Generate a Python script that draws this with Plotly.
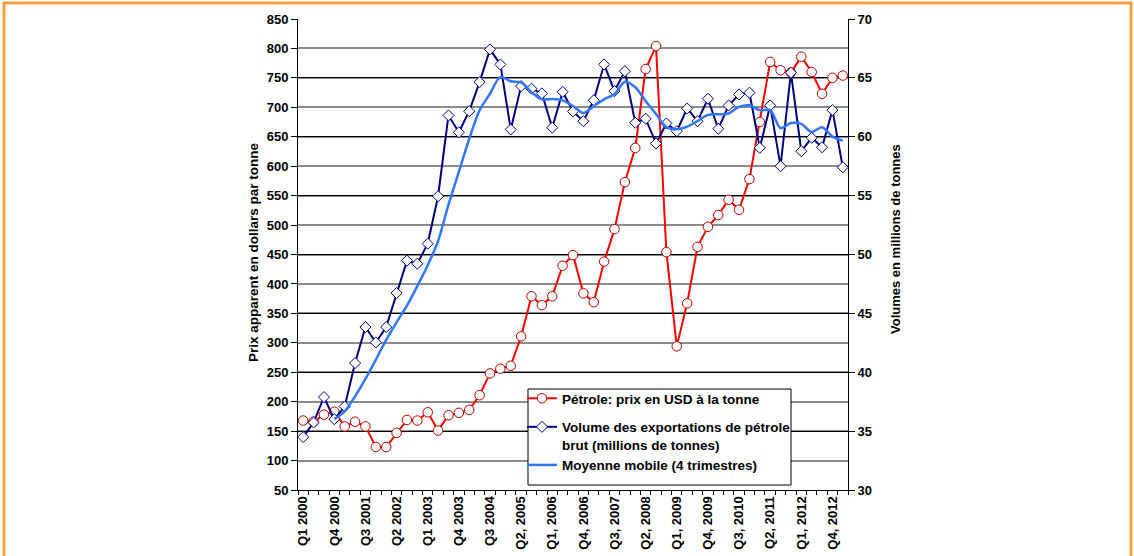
import plotly.graph_objects as go

# ---------------- data ----------------
quarters = [f"Q{q} {y}" for y in range(2000, 2014) for q in range(1, 5)][:53]

tick_labels = ["Q1 2000", "Q4 2000", "Q3 2001", "Q2 2002", "Q1 2003", "Q4 2003",
               "Q3 2004", "Q2, 2005", "Q1, 2006", "Q4, 2006", "Q3, 2007", "Q2, 2008",
               "Q1, 2009", "Q4, 2009", "Q3, 2010", "Q2, 2011", "Q1, 2012", "Q4, 2012"]

price = [168, 166, 178, 183, 158, 166, 158, 123, 123, 147, 169, 168, 182, 151,
         177, 181, 186, 211, 248, 256, 261, 311, 379, 364, 379, 431, 449, 384,
         369, 438, 493, 573, 631, 765, 804, 454, 294, 367, 463, 497, 517, 543,
         526, 578, 675, 777, 763, 759, 786, 760, 723, 750, 754]

volume = [34.49, 35.73, 37.89, 36.02, 37.09, 40.78, 43.84, 42.53, 43.84, 46.73,
          49.48, 49.22, 50.92, 54.95, 61.81, 60.38, 62.17, 64.64, 67.42, 66.14,
          60.62, 64.30, 64.08, 63.68, 60.77, 63.82, 62.15, 61.32, 63.10, 66.14,
          63.88, 65.57, 61.19, 61.53, 59.43, 61.13, 60.47, 62.40, 61.32, 63.23,
          60.68, 62.66, 63.59, 63.74, 59.06, 62.66, 57.50, 65.44, 58.77, 59.91,
          59.11, 62.26, 57.41]

moving_avg = [None, None, None, 36.03, 36.68, 37.95, 39.43, 41.06, 42.75, 44.24,
              45.65, 47.32, 49.09, 51.14, 54.23, 57.02, 59.83, 62.25, 63.65, 65.09,
              64.71, 64.62, 63.79, 63.17, 63.21, 63.09, 62.61, 62.02, 62.60, 63.18,
              63.61, 64.67, 64.20, 63.04, 61.93, 60.82, 60.64, 60.86, 61.33, 61.86,
              61.91, 61.97, 62.54, 62.67, 62.26, 62.26, 60.74, 61.17, 61.09, 60.41,
              60.81, 60.01, 59.67]

names = ["Pétrole: prix en USD à la tonne",
         "Volume des exportations de pétrole<br>brut (millions de tonnes)",
         "Moyenne mobile (4 trimestres)"]

# ---------------- layout geometry (pixels) ----------------
W, H = 1134, 556
L, R, T, B = 298, 848, 19, 490
pw, ph = R - L, B - T


def px(x):
    return (x - L) / pw


def py(y):
    return (B - y) / ph


FONT = "Liberation Sans, Arial, sans-serif"

ticktext = [tick_labels[i // 3] if (i % 3 == 0 and i // 3 < len(tick_labels)) else ""
            for i in range(len(quarters))]

fig = go.Figure()

fig.add_trace(go.Scatter(
    x=quarters, y=price, name=names[0], yaxis="y", mode="lines+markers",
    line=dict(color="#FF0000", width=2),
    marker=dict(symbol="circle", size=9.5, color="white",
                line=dict(color="#C00000", width=1)),
    legendgroup="a"))

fig.add_trace(go.Scatter(
    x=quarters, y=volume, name=names[1], yaxis="y2", mode="lines+markers",
    line=dict(color="#000080", width=2),
    marker=dict(symbol="diamond", size=8.5, color="white",
                line=dict(color="#00009A", width=1)),
    legendgroup="b"))

fig.add_trace(go.Scatter(
    x=quarters, y=moving_avg, name=names[2], yaxis="y2", mode="lines",
    line=dict(color="#3377FF", width=2.5, shape="spline", smoothing=0.8),
    legendgroup="b"))

fig.update_layout(
    width=W, height=H, autosize=False,
    margin=dict(l=L, r=W - R, t=T, b=H - B, pad=0, autoexpand=False),
    paper_bgcolor="white", plot_bgcolor="white",
    font=dict(family=FONT, size=13, color="black", weight="bold"),
    showlegend=True,
    legend=dict(x=px(522), y=py(383), xanchor="left", yanchor="top",
                bgcolor="rgba(0,0,0,0)", borderwidth=0,
                font=dict(family=FONT, size=13.5, color="black", weight="bold"),
                traceorder="grouped", tracegroupgap=8, valign="top",
                itemwidth=30),
    xaxis=dict(
        type="category", range=[-0.5, 52.5], automargin=False,
        tickmode="array", tickvals=quarters, ticktext=ticktext,
        tickson="boundaries", ticks="outside", ticklen=4, tickcolor="black",
        tickangle=-90, tickfont=dict(family=FONT, size=13, weight="bold"),
        showline=True, linecolor="black", linewidth=1,
        showgrid=False, zeroline=False),
    yaxis=dict(
        range=[50, 850], dtick=50, tick0=50, automargin=False,
        ticks="outside", ticklen=6, tickcolor="black",
        tickfont=dict(family=FONT, size=13, weight="bold"),
        showline=True, linecolor="black", linewidth=1,
        showgrid=True, gridcolor="#8C8C8C", gridwidth=1.5, zeroline=False),
    yaxis2=dict(
        range=[30, 70], dtick=5, tick0=30, overlaying="y", side="right",
        automargin=False,
        ticks="outside", ticklen=6, tickcolor="black",
        tickfont=dict(family=FONT, size=13, weight="bold"),
        showline=True, linecolor="black", linewidth=1,
        showgrid=True, gridcolor="black", gridwidth=1, zeroline=False),
)

fig.add_annotation(text="Prix apparent en dollars par tonne", xref="paper", yref="paper",
                   x=px(253), y=py(252), textangle=-90, showarrow=False,
                   xanchor="center", yanchor="middle",
                   font=dict(family=FONT, size=13.5, weight="bold", color="black"))
fig.add_annotation(text="Volumes en millions de tonnes", xref="paper", yref="paper",
                   x=px(895), y=py(239), textangle=-90, showarrow=False,
                   xanchor="center", yanchor="middle",
                   font=dict(family=FONT, size=13, weight="bold", color="black"))

# legend box
fig.add_shape(type="rect", xref="paper", yref="paper",
              x0=px(528), x1=px(791), y0=py(485), y1=py(389),
              line=dict(color="black", width=1), fillcolor="white", layer="above")

# orange outer frame
fig.add_shape(type="rect", xref="paper", yref="paper",
              x0=px(4), x1=px(1131), y0=py(620), y1=py(3),
              line=dict(color="#F2A03E", width=3), fillcolor="rgba(0,0,0,0)", layer="above")

page_js = ("var s='margin:0;padding:0;overflow:hidden;height:556px;width:1134px;';"
           "document.documentElement.style.cssText=s;document.body.style.cssText=s;")

fig.write_html("out.html", config={"displayModeBar": False}, post_script=page_js)
